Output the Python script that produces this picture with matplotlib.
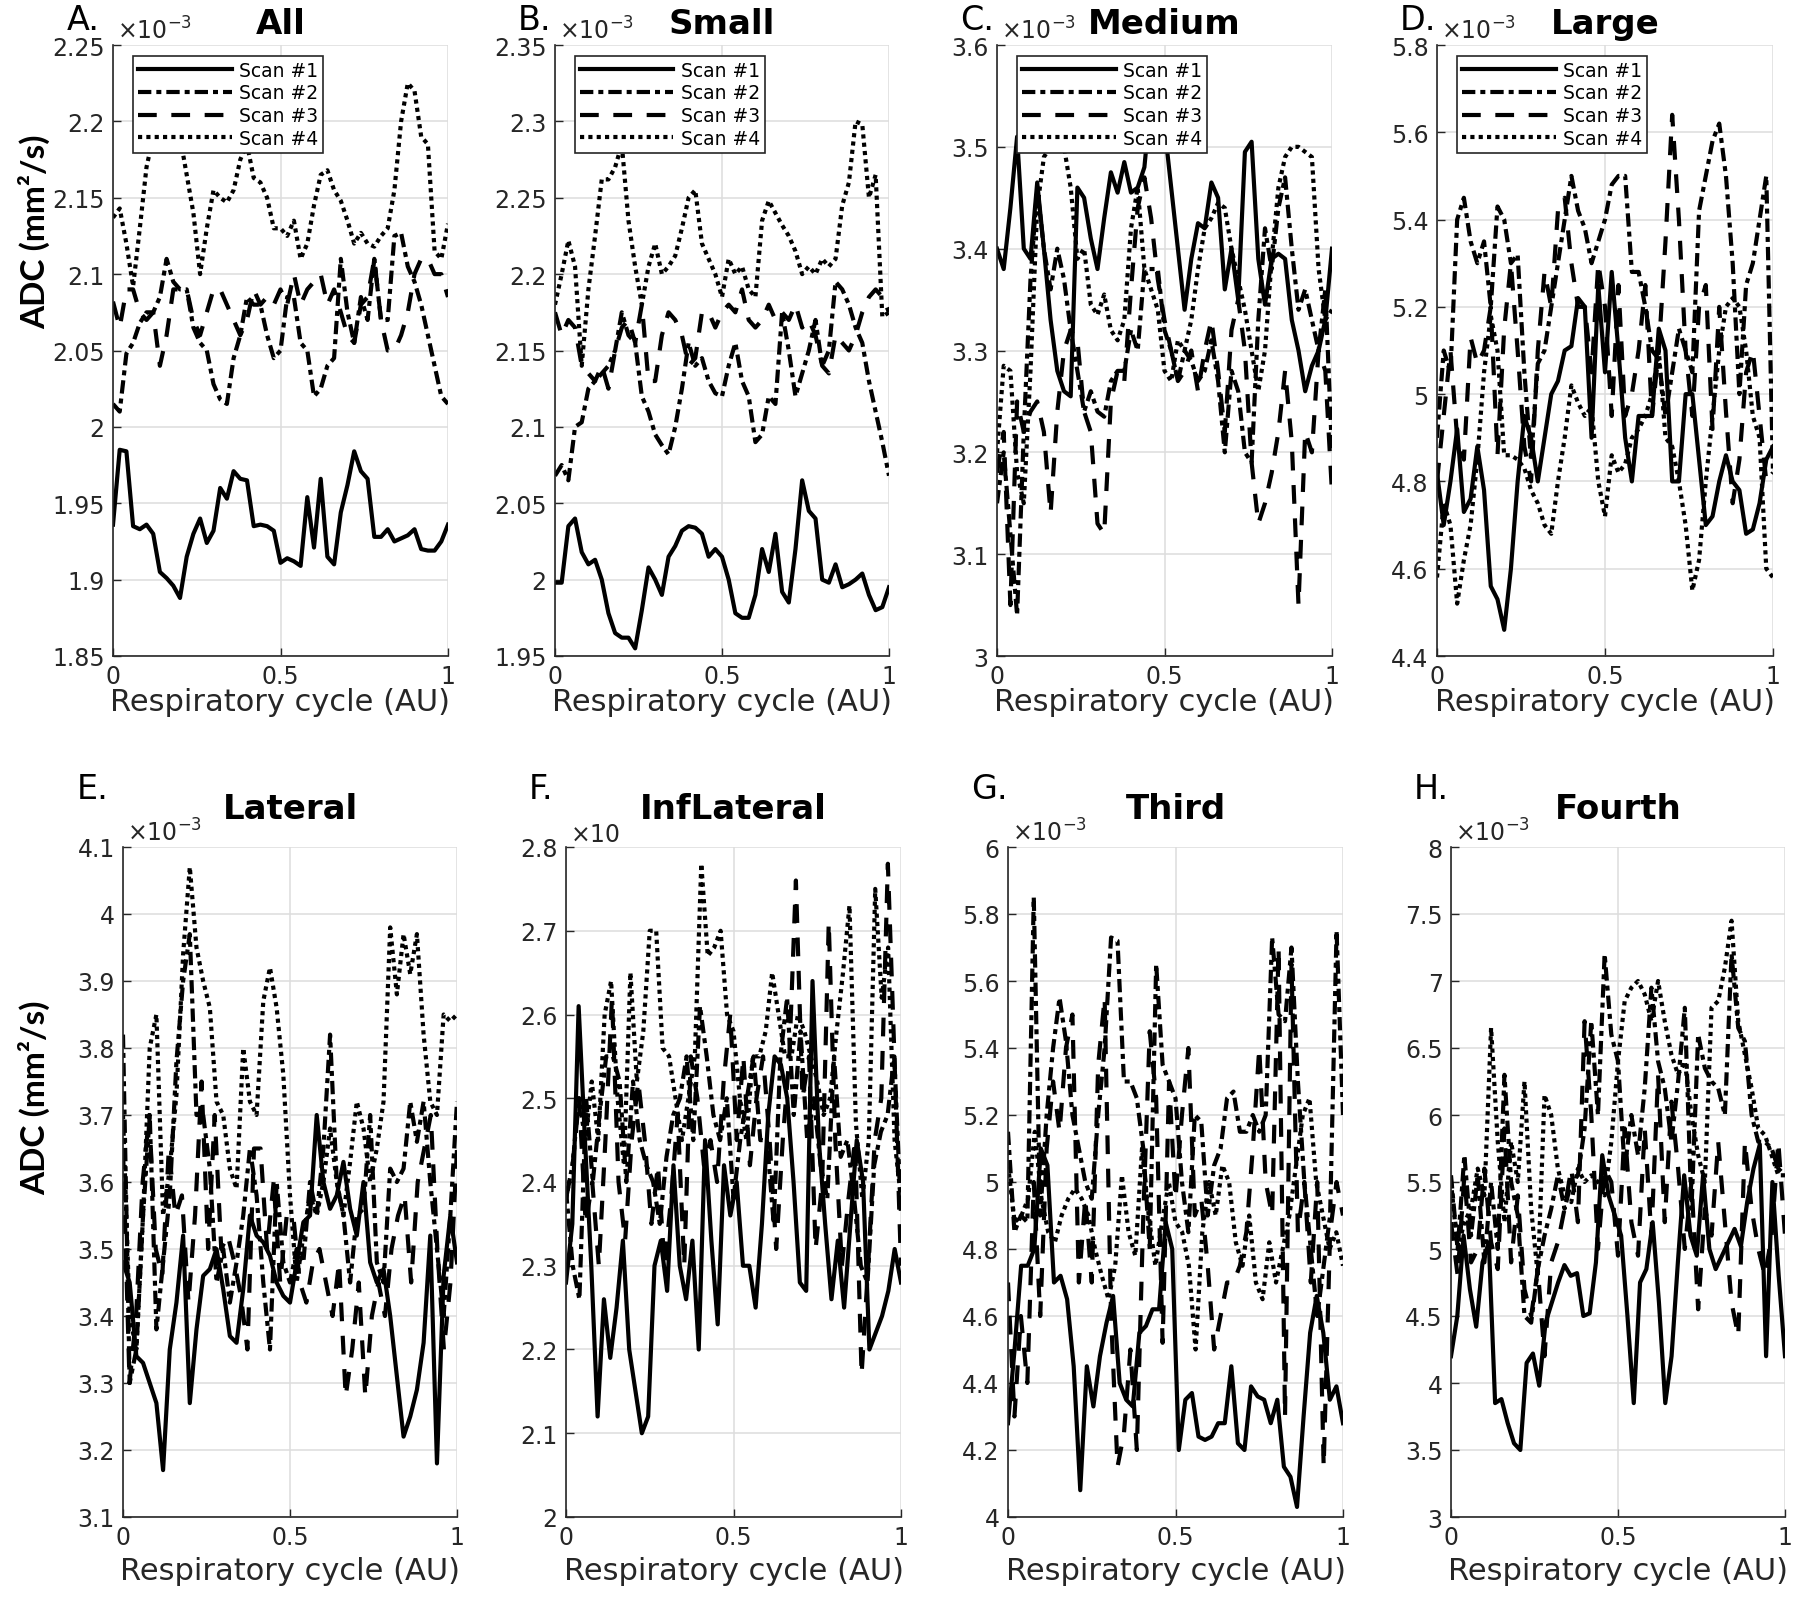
import numpy as np
import matplotlib.pyplot as plt
from matplotlib.ticker import FormatStrFormatter

# ---- data (ADC values, in units of the axis multiplier) ----
a_scan1 = [1.936,1.985,1.984,1.935,1.933,1.936,1.930,1.905,1.901,1.896,1.888,1.915,1.930,1.940,1.924,1.932,1.960,1.953,1.971,1.966,1.965,1.935,1.936,1.935,1.932,1.911,1.914,1.912,1.909,1.954,1.921,1.966,1.915,1.910,1.944,1.962,1.984,1.971,1.966,1.928,1.928,1.933,1.925,1.927,1.929,1.933,1.920,1.919,1.919,1.925,1.936]
a_scan2 = [2.015,2.010,2.048,2.055,2.068,2.075,2.075,2.085,2.110,2.095,2.090,2.090,2.065,2.055,2.050,2.028,2.018,2.015,2.045,2.060,2.085,2.080,2.080,2.060,2.045,2.050,2.085,2.085,2.055,2.050,2.020,2.025,2.040,2.045,2.110,2.075,2.055,2.085,2.070,2.110,2.070,2.070,2.125,2.127,2.105,2.095,2.080,2.060,2.040,2.020,2.015]
a_scan3 = [2.082,2.065,2.090,2.090,2.075,2.070,2.075,2.040,2.060,2.090,2.090,2.090,2.070,2.060,2.075,2.090,2.090,2.080,2.070,2.060,2.070,2.090,2.080,2.085,2.080,2.090,2.080,2.100,2.080,2.090,2.095,2.100,2.080,2.090,2.075,2.060,2.055,2.080,2.085,2.110,2.070,2.050,2.050,2.060,2.075,2.100,2.110,2.110,2.100,2.100,2.085]
a_scan4 = [2.137,2.143,2.120,2.092,2.130,2.170,2.190,2.210,2.225,2.240,2.190,2.165,2.140,2.100,2.130,2.155,2.150,2.147,2.155,2.175,2.185,2.163,2.160,2.150,2.130,2.130,2.125,2.135,2.110,2.120,2.145,2.165,2.168,2.155,2.148,2.135,2.120,2.127,2.120,2.118,2.125,2.130,2.155,2.200,2.225,2.220,2.190,2.185,2.115,2.110,2.133]

b_scan1 = [1.998,1.998,2.035,2.040,2.018,2.010,2.013,2.000,1.978,1.965,1.962,1.962,1.955,1.980,2.008,2.000,1.990,2.015,2.022,2.032,2.035,2.034,2.030,2.015,2.020,2.015,2.000,1.978,1.975,1.975,1.990,2.020,2.005,2.030,1.992,1.985,2.020,2.065,2.045,2.040,2.000,1.998,2.010,1.995,1.997,2.000,2.004,1.990,1.980,1.982,1.995]
b_scan2 = [2.068,2.075,2.065,2.100,2.103,2.125,2.130,2.135,2.140,2.150,2.175,2.160,2.155,2.120,2.110,2.095,2.088,2.082,2.100,2.125,2.155,2.140,2.145,2.130,2.122,2.120,2.140,2.155,2.130,2.120,2.090,2.095,2.120,2.115,2.175,2.150,2.120,2.135,2.150,2.170,2.140,2.150,2.195,2.190,2.180,2.165,2.155,2.130,2.110,2.090,2.068]
b_scan3 = [2.175,2.160,2.170,2.165,2.140,2.135,2.130,2.140,2.125,2.150,2.165,2.170,2.155,2.180,2.130,2.130,2.160,2.175,2.170,2.160,2.140,2.145,2.175,2.175,2.165,2.175,2.180,2.175,2.190,2.170,2.165,2.170,2.180,2.170,2.175,2.170,2.180,2.165,2.170,2.160,2.140,2.135,2.160,2.155,2.150,2.160,2.175,2.185,2.190,2.185,2.175]
b_scan4 = [2.180,2.200,2.222,2.205,2.140,2.190,2.225,2.262,2.262,2.270,2.285,2.235,2.205,2.180,2.205,2.220,2.200,2.205,2.212,2.230,2.250,2.255,2.220,2.210,2.200,2.185,2.210,2.200,2.205,2.190,2.185,2.235,2.248,2.240,2.232,2.225,2.215,2.200,2.205,2.200,2.210,2.205,2.210,2.245,2.260,2.300,2.298,2.250,2.265,2.172,2.175]

c_scan1 = [3.40,3.38,3.44,3.51,3.40,3.39,3.465,3.40,3.33,3.28,3.26,3.255,3.46,3.45,3.41,3.38,3.43,3.475,3.455,3.485,3.455,3.46,3.48,3.55,3.54,3.52,3.46,3.40,3.34,3.39,3.425,3.42,3.465,3.45,3.36,3.40,3.35,3.495,3.505,3.39,3.345,3.39,3.395,3.39,3.33,3.30,3.26,3.285,3.30,3.33,3.40]
c_scan2 = [3.15,3.20,3.12,3.04,3.22,3.37,3.46,3.40,3.36,3.40,3.37,3.32,3.28,3.24,3.26,3.24,3.235,3.27,3.28,3.28,3.32,3.30,3.38,3.38,3.38,3.32,3.30,3.27,3.30,3.29,3.27,3.28,3.31,3.27,3.20,3.28,3.26,3.20,3.19,3.33,3.42,3.38,3.44,3.47,3.40,3.34,3.36,3.33,3.30,3.36,3.20]
c_scan3 = [3.18,3.22,3.05,3.25,3.22,3.24,3.25,3.22,3.14,3.24,3.30,3.32,3.31,3.24,3.22,3.13,3.12,3.25,3.28,3.27,3.36,3.44,3.47,3.43,3.37,3.33,3.30,3.27,3.28,3.30,3.26,3.30,3.33,3.28,3.22,3.32,3.35,3.30,3.19,3.13,3.15,3.18,3.22,3.28,3.21,3.05,3.22,3.20,3.30,3.28,3.16]
c_scan4 = [3.20,3.285,3.28,3.18,3.15,3.28,3.44,3.49,3.50,3.52,3.50,3.46,3.39,3.40,3.345,3.335,3.355,3.32,3.31,3.33,3.42,3.46,3.38,3.36,3.34,3.28,3.27,3.31,3.30,3.33,3.38,3.42,3.43,3.445,3.44,3.40,3.37,3.34,3.30,3.26,3.30,3.39,3.46,3.49,3.50,3.50,3.495,3.49,3.38,3.33,3.34]

d_scan1 = [4.82,4.70,4.80,4.92,4.73,4.76,4.88,4.78,4.56,4.53,4.46,4.60,4.80,4.95,4.90,4.80,4.90,5.00,5.03,5.10,5.11,5.22,5.20,4.90,5.25,5.05,5.28,5.10,4.90,4.80,4.95,4.95,4.95,5.15,5.10,4.80,4.80,5.00,5.00,4.85,4.70,4.72,4.80,4.86,4.80,4.78,4.68,4.69,4.75,4.85,4.88]
d_scan2 = [4.90,5.10,5.05,5.40,5.45,5.35,5.30,5.35,5.20,5.43,5.40,5.30,5.32,5.05,4.85,5.07,5.10,5.20,5.30,5.40,5.50,5.42,5.38,5.30,5.35,5.40,5.48,5.50,5.50,5.28,5.28,5.20,5.10,5.08,4.95,5.05,5.15,5.10,5.05,5.42,5.50,5.58,5.62,5.50,5.30,5.00,5.25,5.30,5.40,5.50,4.82]
d_scan3 = [4.80,4.95,5.10,4.90,4.85,5.13,5.07,5.10,5.20,4.86,5.15,5.30,5.10,4.88,4.80,5.10,5.28,5.20,5.42,5.45,5.30,5.20,5.20,5.05,5.30,5.20,4.95,5.25,4.95,5.00,5.10,5.25,4.95,5.10,5.35,5.64,5.40,5.10,4.95,5.20,5.25,4.92,5.20,4.96,4.75,4.85,5.05,5.10,4.95,4.80,4.82]
d_scan4 = [4.58,4.75,4.70,4.52,4.62,4.70,4.85,5.05,5.18,5.10,4.86,4.86,4.85,4.83,4.78,4.75,4.70,4.68,4.80,4.90,5.02,4.98,4.95,4.97,4.80,4.72,4.86,4.82,4.84,4.90,4.92,4.95,5.00,5.10,4.90,4.88,4.80,4.70,4.55,4.62,4.80,4.95,5.10,5.20,5.22,5.20,5.10,4.95,4.90,4.60,4.58]

e_scan1 = [3.48,3.45,3.34,3.33,3.30,3.27,3.17,3.35,3.42,3.52,3.27,3.38,3.46,3.47,3.50,3.44,3.37,3.36,3.44,3.55,3.52,3.51,3.49,3.45,3.43,3.42,3.48,3.54,3.55,3.70,3.60,3.56,3.58,3.63,3.56,3.52,3.60,3.48,3.45,3.47,3.40,3.31,3.22,3.25,3.29,3.36,3.52,3.18,3.46,3.55,3.48]
e_scan2 = [3.82,3.30,3.35,3.55,3.70,3.38,3.48,3.58,3.78,3.90,3.97,3.70,3.70,3.62,3.45,3.50,3.42,3.48,3.55,3.65,3.58,3.45,3.35,3.60,3.48,3.45,3.50,3.48,3.60,3.55,3.65,3.82,3.60,3.55,3.45,3.55,3.56,3.70,3.48,3.45,3.62,3.60,3.62,3.72,3.66,3.72,3.60,3.50,3.40,3.55,3.72]
e_scan3 = [3.65,3.30,3.40,3.60,3.70,3.50,3.46,3.65,3.55,3.58,3.42,3.55,3.75,3.50,3.70,3.50,3.52,3.48,3.43,3.35,3.65,3.65,3.50,3.60,3.45,3.55,3.55,3.45,3.42,3.48,3.50,3.45,3.40,3.48,3.28,3.35,3.45,3.28,3.40,3.45,3.40,3.50,3.55,3.58,3.45,3.60,3.65,3.70,3.50,3.35,3.45,3.65]
e_scan4 = [3.70,3.40,3.35,3.55,3.80,3.85,3.55,3.62,3.73,3.94,4.07,3.95,3.90,3.86,3.72,3.70,3.62,3.59,3.80,3.72,3.70,3.87,3.92,3.86,3.76,3.58,3.45,3.52,3.58,3.55,3.60,3.68,3.60,3.55,3.63,3.72,3.68,3.60,3.65,3.72,3.98,3.88,3.97,3.91,3.97,3.82,3.72,3.70,3.85,3.84,3.85]

f_scan1 = [2.28,2.35,2.61,2.45,2.30,2.12,2.26,2.19,2.25,2.33,2.20,2.15,2.10,2.12,2.30,2.33,2.27,2.42,2.30,2.26,2.33,2.20,2.45,2.33,2.23,2.42,2.36,2.40,2.30,2.30,2.25,2.35,2.48,2.55,2.54,2.50,2.40,2.28,2.27,2.64,2.45,2.35,2.26,2.33,2.25,2.35,2.45,2.40,2.20,2.22,2.24,2.27,2.32,2.28]
f_scan2 = [2.39,2.30,2.26,2.50,2.40,2.48,2.55,2.55,2.52,2.40,2.52,2.45,2.42,2.40,2.35,2.43,2.48,2.50,2.55,2.45,2.61,2.55,2.48,2.45,2.50,2.38,2.45,2.50,2.55,2.45,2.45,2.35,2.55,2.62,2.48,2.58,2.45,2.50,2.42,2.38,2.55,2.43,2.45,2.38,2.30,2.28,2.42,2.46,2.48,2.55,2.36]
f_scan3 = [2.38,2.42,2.50,2.35,2.40,2.30,2.45,2.62,2.40,2.33,2.45,2.52,2.45,2.35,2.42,2.30,2.38,2.48,2.30,2.55,2.50,2.42,2.45,2.40,2.52,2.60,2.45,2.55,2.42,2.50,2.55,2.45,2.32,2.45,2.55,2.76,2.50,2.55,2.32,2.40,2.71,2.45,2.30,2.38,2.45,2.17,2.30,2.45,2.50,2.78,2.55,2.30]
f_scan4 = [2.38,2.42,2.50,2.45,2.52,2.45,2.60,2.64,2.50,2.42,2.65,2.52,2.58,2.70,2.70,2.56,2.55,2.50,2.45,2.50,2.55,2.78,2.67,2.68,2.70,2.60,2.58,2.50,2.45,2.55,2.55,2.58,2.65,2.60,2.55,2.55,2.60,2.58,2.55,2.52,2.48,2.50,2.58,2.65,2.73,2.47,2.38,2.45,2.75,2.62,2.68,2.45,2.38]

g_scan1 = [4.28,4.50,4.75,4.75,4.80,5.10,5.05,4.70,4.72,4.65,4.45,4.08,4.45,4.33,4.48,4.58,4.66,4.40,4.35,4.33,4.55,4.57,4.62,4.62,4.88,4.80,4.20,4.35,4.37,4.24,4.23,4.24,4.28,4.28,4.45,4.22,4.20,4.39,4.36,4.35,4.28,4.35,4.15,4.12,4.03,4.30,4.55,4.66,4.55,4.35,4.39,4.28]
g_scan2 = [5.15,4.85,4.90,4.88,5.85,4.90,5.20,5.40,5.55,5.42,5.20,5.10,5.00,4.95,5.20,5.40,5.73,5.72,5.30,5.30,5.25,5.10,4.80,5.65,5.35,5.30,5.25,5.00,4.85,5.20,5.18,4.90,5.05,5.10,5.25,5.27,5.15,5.15,5.20,5.15,5.20,5.73,5.50,5.48,5.70,5.30,5.00,4.80,4.60,4.75,4.90,5.75,5.20]
g_scan3 = [4.70,4.30,4.60,4.40,5.00,4.60,5.10,5.30,5.15,5.40,5.50,4.70,4.95,4.70,5.35,5.55,4.60,4.15,4.25,4.50,4.20,4.90,5.45,5.25,4.52,5.30,4.95,5.20,5.40,4.90,4.95,4.75,4.50,4.60,4.70,4.70,4.75,4.85,5.10,5.40,5.00,4.90,5.70,4.30,5.65,4.85,5.00,4.70,5.00,4.15,4.85,5.00,4.90]
g_scan4 = [5.05,4.88,4.90,4.95,5.15,4.95,4.85,4.82,4.90,4.95,4.98,4.95,4.90,4.80,4.72,4.65,4.75,5.02,4.85,4.78,5.10,4.90,4.75,4.88,5.00,4.88,4.85,4.75,4.50,4.85,5.00,4.90,5.05,5.00,4.82,4.75,4.90,4.70,4.65,4.82,4.70,4.80,4.90,5.05,5.20,5.25,5.00,4.90,4.80,4.85,4.75]

h_scan1 = [4.20,4.50,5.10,4.70,4.42,4.90,5.05,3.85,3.88,3.70,3.55,3.50,4.15,4.22,3.98,4.45,4.60,4.75,4.88,4.80,4.82,4.50,4.52,4.90,5.70,5.40,5.25,5.10,4.50,3.85,4.75,4.85,5.20,4.60,3.85,4.20,4.90,5.55,5.10,4.95,5.55,5.00,4.85,4.95,5.05,5.15,5.02,5.35,5.60,5.78,4.20,5.50,4.80,4.20]
h_scan2 = [5.55,5.00,5.70,5.10,5.55,4.90,5.50,5.00,6.30,5.50,5.25,4.50,4.45,4.85,5.10,5.30,5.55,5.30,5.50,5.55,5.90,6.70,6.00,7.20,6.60,6.40,5.60,6.00,5.70,6.20,6.95,6.40,6.20,5.80,6.25,6.80,5.30,6.60,6.35,6.25,6.20,6.00,7.20,6.65,6.55,6.00,5.80,5.80,5.75,5.60,5.55]
h_scan3 = [5.20,4.80,5.55,4.90,5.00,5.60,5.05,4.85,5.90,4.90,5.40,4.70,4.50,4.85,4.20,4.90,5.05,5.30,5.60,5.20,6.70,6.00,5.00,5.60,5.50,4.95,5.90,5.20,4.95,5.90,5.10,6.30,5.20,6.10,5.60,5.00,5.50,4.55,5.30,5.10,5.80,5.20,4.60,4.35,5.80,5.30,5.00,4.80,5.10,5.80,5.10]
h_scan4 = [5.50,5.00,5.20,5.30,5.60,5.40,6.65,5.80,5.20,5.80,5.50,6.25,5.30,4.80,6.15,6.00,5.60,5.40,5.35,5.60,5.50,5.55,5.50,5.40,5.80,6.40,6.85,6.95,7.00,6.90,6.70,7.00,6.70,6.45,6.30,6.40,6.00,5.70,5.50,6.80,6.85,7.10,7.45,6.70,6.45,6.20,5.90,5.85,5.70,5.55,5.55]

letters = ['A.', 'B.', 'C.', 'D.', 'E.', 'F.', 'G.', 'H.']
titles = ['All', 'Small', 'Medium', 'Large', 'Lateral', 'InfLateral', 'Third', 'Fourth']
y_limits = [(1.85, 2.25), (1.95, 2.35), (3.0, 3.6), (4.4, 5.8),
            (3.1, 4.1), (2.0, 2.8), (4.0, 6.0), (3.0, 8.0)]
y_steps = [0.05, 0.05, 0.1, 0.2, 0.1, 0.1, 0.2, 0.5]
multipliers = [r'$\times10^{-3}$'] * 5 + [r'$\times10$'] + [r'$\times10^{-3}$'] * 2
scan_labels = ['Scan #1', 'Scan #2', 'Scan #3', 'Scan #4']

panel_data = [
    [a_scan1, a_scan2, a_scan3, a_scan4],
    [b_scan1, b_scan2, b_scan3, b_scan4],
    [c_scan1, c_scan2, c_scan3, c_scan4],
    [d_scan1, d_scan2, d_scan3, d_scan4],
    [e_scan1, e_scan2, e_scan3, e_scan4],
    [f_scan1, f_scan2, f_scan3, f_scan4],
    [g_scan1, g_scan2, g_scan3, g_scan4],
    [h_scan1, h_scan2, h_scan3, h_scan4],
]

# line styles: solid, dash-dot, dashed, dotted
line_styles = ['-', (0, (3.2, 1.2, 1.2, 1.2)), (0, (4.5, 3.5)), (0, (1, 1))]

W, H = 1800, 1606
fig = plt.figure(figsize=(W / 100, H / 100), dpi=100)
ink = '#262626'

# axes boxes in pixels: (left, right, top, bottom)
boxes = [(113, 448, 46, 657), (555, 889, 46, 657), (997, 1332, 46, 657), (1437, 1773, 46, 657),
         (123, 457, 848, 1518), (566, 901, 848, 1518), (1008, 1343, 848, 1518), (1451, 1785, 848, 1518)]

for i, (l, r, t, b) in enumerate(boxes):
    ax = fig.add_axes([l / W, 1 - b / H, (r - l) / W, (b - t) / H])
    for k, ys in enumerate(panel_data[i]):
        xs = np.linspace(0, 1, len(ys))
        ax.plot(xs, ys, color='black', lw=3.0, linestyle=line_styles[k],
                label=scan_labels[k])
    lo, hi = y_limits[i]
    ax.set_xlim(0, 1)
    ax.set_ylim(lo, hi)
    ax.set_xticks([0, 0.5, 1])
    ax.set_yticks(np.round(np.arange(lo, hi + y_steps[i] / 2, y_steps[i]), 3))
    ax.xaxis.set_major_formatter(FormatStrFormatter('%g'))
    ax.yaxis.set_major_formatter(FormatStrFormatter('%g'))
    ax.grid(True, color='#dddddd', lw=1.1)
    ax.set_axisbelow(True)
    for s in ['top', 'right']:
        ax.spines[s].set_visible(False)
    for s in ['left', 'bottom']:
        ax.spines[s].set_color(ink)
        ax.spines[s].set_linewidth(1.2)
    ax.tick_params(direction='in', length=6, width=1, labelsize=17,
                   colors=ink, pad=6)

    top_row = i < 4
    ax.set_xlabel('Respiratory cycle (AU)', fontsize=22, color=ink)
    ax.xaxis.set_label_coords(0.5, -0.05 if top_row else -0.058)
    ax.text(0.012, 1.002, multipliers[i], transform=ax.transAxes,
            ha='left', va='bottom', fontsize=17, color=ink)
    ax.text(0.5, 1.036 if top_row else 1.058, titles[i], transform=ax.transAxes,
            ha='center', va='center', fontsize=24.5, fontweight='bold')
    fig.text((l - (46 if i in (0, 4) else 37)) / W, 1 - (21 if top_row else 790) / H,
             letters[i], ha='left', va='center', fontsize=24)

    if top_row:
        leg = ax.legend(loc='upper left', bbox_to_anchor=(0.06, 0.982),
                        fontsize=13.5, frameon=True, fancybox=False,
                        edgecolor=ink, framealpha=1, borderaxespad=0,
                        handlelength=5.0, labelspacing=0.2, borderpad=0.25,
                        handletextpad=0.4)
        leg.get_frame().set_linewidth(1.2)

for yc in (232, 1098):
    fig.text(34 / W, 1 - yc / H, 'ADC (mm²/s)', rotation=90, ha='center',
             va='center', fontsize=24, fontweight='bold',
             family=['Lato', 'DejaVu Sans'])

fig.savefig('out.png', dpi=100)
